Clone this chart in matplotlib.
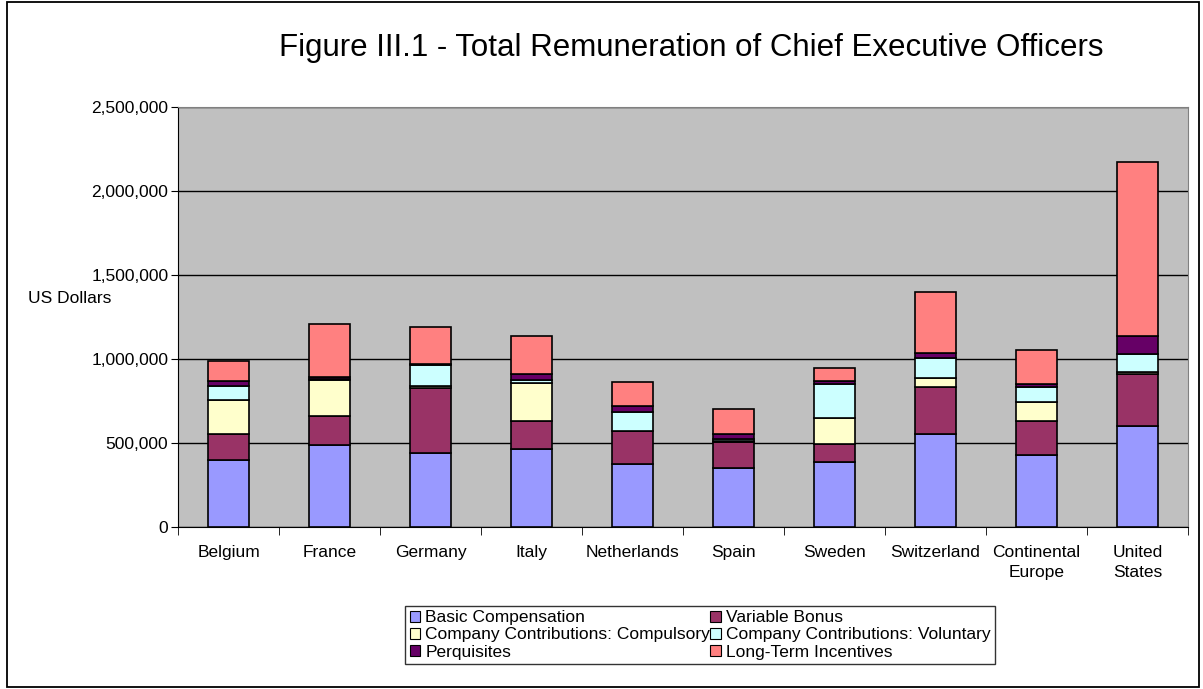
import matplotlib
matplotlib.use("Agg")
import matplotlib.pyplot as plt
from matplotlib.patches import Rectangle, Patch
from matplotlib.ticker import FuncFormatter
import numpy as np

plt.rcParams['font.family'] = ['Liberation Sans', 'DejaVu Sans']

categories = ["Belgium", "France", "Germany", "Italy", "Netherlands", "Spain",
              "Sweden", "Switzerland", "Continental\nEurope", "United\nStates"]
basic = [400000, 487000, 440000, 467000, 374000, 353000, 389000, 555000, 431000, 603000]
variable = [153000, 174000, 390000, 166000, 199000, 152000, 108000, 277000, 202000, 310000]
compulsory = [201000, 217000, 12000, 225000, 0, 8000, 154000, 58000, 112000, 9000]
voluntary = [87000, 5000, 124000, 16000, 114000, 10000, 199000, 114000, 87000, 110000]
perquisites = [31000, 10000, 5000, 36000, 32000, 30000, 22000, 30000, 18000, 106000]
long_term = [114000, 315000, 217000, 230000, 146000, 147000, 76000, 365000, 202000, 1034000]

series_names = ["Basic Compensation", "Variable Bonus",
                "Company Contributions: Compulsory", "Company Contributions: Voluntary",
                "Perquisites", "Long-Term Incentives"]
series = [basic, variable, compulsory, voluntary, perquisites, long_term]
colors = ["#9999FF", "#993366", "#FFFFCC", "#CCFFFF", "#660066", "#FF8080"]

fig = plt.figure(figsize=(12.03, 6.89), dpi=100)
fig.patches.append(Rectangle((0.006, 0.003), 0.9905, 0.994, transform=fig.transFigure,
                             fill=False, edgecolor="black", linewidth=1.3))
ax = fig.add_axes([0.148, 0.235, 0.8395, 0.6097])
ax.set_facecolor("#C0C0C0")

x = np.arange(len(categories))
bottom = np.zeros(len(categories))
for name, vals, col in zip(series_names, series, colors):
    v = np.array(vals, dtype=float)
    ax.bar(x, v, bottom=bottom, width=0.4, color=col, edgecolor="black",
           linewidth=1.2, label=name, zorder=3)
    bottom += v

ax.set_ylim(0, 2500000)
ax.set_xlim(-0.5, len(categories) - 0.5)
ax.set_yticks(np.arange(0, 2500001, 500000))
ax.yaxis.set_major_formatter(FuncFormatter(lambda v, p: f"{int(v):,}"))
ax.grid(axis="y", color="black", linewidth=1, zorder=0)
ax.set_axisbelow(True)

ax.set_xticks(x)
ax.set_xticklabels(categories, fontsize=12.5, linespacing=1.4)
ax.tick_params(axis="x", length=0, pad=13)
ax.set_xticks(np.arange(-0.5, len(categories), 1.0), minor=True)
ax.tick_params(axis="x", which="minor", length=6, direction="out", color="black")
ax.tick_params(axis="y", labelsize=12.5, length=5, direction="out", color="black", pad=2)

for s in ["top", "right"]:
    ax.spines[s].set_color("#808080")
for s in ["left", "bottom"]:
    ax.spines[s].set_color("black")

fig.text(0.058, 0.567, "US Dollars", fontsize=12.5, ha="center", va="center")
fig.text(0.575, 0.930, "Figure III.1 - Total Remuneration of Chief Executive Officers",
         fontsize=22.5, ha="center", va="center")

handles = [Patch(facecolor=c, edgecolor="black", linewidth=0.8) for c in colors]
order = [0, 2, 4, 1, 3, 5]
leg = fig.legend([handles[i] for i in order], [series_names[i] for i in order],
                 ncol=2, loc="center", bbox_to_anchor=(0.582, 0.0784),
                 fontsize=12.5, frameon=True, fancybox=False, edgecolor="black",
                 handlelength=0.6, handleheight=0.6, handletextpad=0.3,
                 columnspacing=0.0, labelspacing=0.12, borderpad=0.25)
leg.get_frame().set_linewidth(1)

fig.savefig("out.png", dpi=100, facecolor="white")
